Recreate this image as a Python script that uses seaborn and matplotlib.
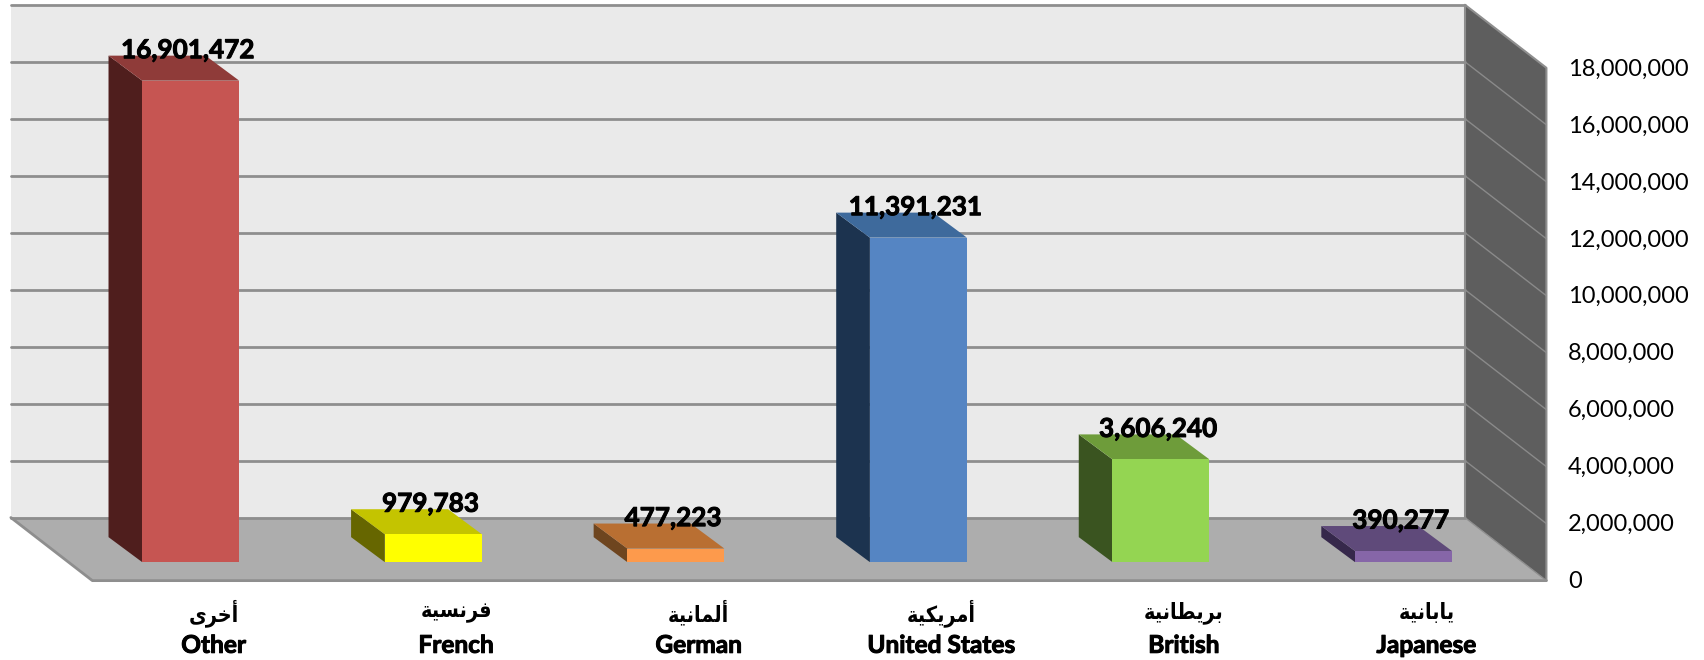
import matplotlib
matplotlib.use('Agg')
from matplotlib import pyplot as plt
from matplotlib import patheffects
from matplotlib.patches import Polygon
import seaborn as sns
import pandas as pd

# Data
categories_en = ['Other', 'French', 'German', 'United States', 'British', 'Japanese']
categories_ar = ['أخرى', 'فرنسية', 'ألمانية', 'أمريكية', 'بريطانية', 'يابانية']
values = [16901472, 979783, 477223, 11391231, 3606240, 390277]
axis_ticks = [0, 2000000, 4000000, 6000000, 8000000, 10000000, 12000000, 14000000, 16000000, 18000000]

# Colours of the faces of each bar
front_colors = ['#C65552', '#FFFF00', '#FD9A4C', '#5585C3', '#94D552', '#8666A8']
top_colors = ['#8F3B39', '#C4C400', '#B96F32', '#3E6A9C', '#6E9C3A', '#5F4A7A']
side_colors = ['#4F1E1D', '#666600', '#6E451F', '#1C334F', '#3A5420', '#36284B']

WALL = '#EAEAEA'
FLOOR = '#ADADAD'
SIDE = '#5E5E5E'
LINE = '#8E8E8E'

# Arabic letter forms: isolated, final, initial, medial (matplotlib does not join letters)
FORMS = {
    'أ': (0xFE83, 0xFE84), 'ا': (0xFE8D, 0xFE8E), 'ر': (0xFEAD, 0xFEAE),
    'ة': (0xFE93, 0xFE94), 'ى': (0xFEEF, 0xFEF0),
    'ب': (0xFE8F, 0xFE90, 0xFE91, 0xFE92), 'خ': (0xFEA5, 0xFEA6, 0xFEA7, 0xFEA8),
    'س': (0xFEB1, 0xFEB2, 0xFEB3, 0xFEB4), 'ط': (0xFEC1, 0xFEC2, 0xFEC3, 0xFEC4),
    'ف': (0xFED1, 0xFED2, 0xFED3, 0xFED4), 'ك': (0xFED9, 0xFEDA, 0xFEDB, 0xFEDC),
    'ل': (0xFEDD, 0xFEDE, 0xFEDF, 0xFEE0),
    'م': (0xFEE1, 0xFEE2, 0xFEE3, 0xFEE4), 'ن': (0xFEE5, 0xFEE6, 0xFEE7, 0xFEE8),
    'ي': (0xFEF1, 0xFEF2, 0xFEF3, 0xFEF4),
}


def shape_arabic(word):
    out = []
    for i, ch in enumerate(word):
        forms = FORMS[ch]
        joins_prev = i > 0 and len(FORMS[word[i - 1]]) == 4
        joins_next = i < len(word) - 1 and len(forms) == 4
        if joins_prev and joins_next:
            out.append(chr(forms[3]))
        elif joins_prev:
            out.append(chr(forms[1]))
        elif joins_next:
            out.append(chr(forms[2]))
        else:
            out.append(chr(forms[0]))
    return ''.join(reversed(out))


sns.set_theme(style='white')
plt.rcParams['font.family'] = ['Lato', 'DejaVu Sans']

fig = plt.figure(figsize=(17.04, 6.6), dpi=100)
ax = fig.add_axes([0, 0, 1, 1])

df = pd.DataFrame({'category': categories_en, 'value': values})
sns.barplot(data=df, x='category', y='value', hue='category', palette=front_colors,
            legend=False, width=0.4, saturation=1, linewidth=0, zorder=5, ax=ax)

# one unit of the 1568 wide picture in data units
px = 1 / 223.2
py = 1e6 / 26.2
ax.set_xlim(-175.5 * px, (1568 - 175.5) * px)
ax.set_ylim(-(607 - 517) * py, 517 * py)
ax.axis('off')

# offsets of the planes against the plane of the bar fronts
wall_dx, wall_dy = -165.5 * px, 41 * py    # left end of back wall
depth_dx, depth_dy = 75 * px, 58 * py      # floor depth
bar_dx, bar_dy = 31 * px, 23 * py          # bar depth
wall_w = 1338 * px
top = axis_ticks[-1]

bolder = [patheffects.withStroke(linewidth=0.7, foreground='black')]


def face(points, color, z=1):
    ax.add_patch(Polygon(points, closed=True, facecolor=color, edgecolor='none', zorder=z))


x0, y0 = wall_dx, wall_dy
x1 = x0 + wall_w
face([(x0, y0), (x1, y0), (x1, y0 + top), (x0, y0 + top)], WALL)
face([(x1, y0), (x1, y0 + top), (x1 + depth_dx, y0 + top - depth_dy),
      (x1 + depth_dx, y0 - depth_dy)], SIDE)
face([(x0, y0), (x1, y0), (x1 + depth_dx, y0 - depth_dy), (x0 + depth_dx, y0 - depth_dy)], FLOOR, z=1.5)

# gridlines on back wall and side wall
for t in axis_ticks:
    ax.plot([x0, x1], [y0 + t, y0 + t], color=LINE, lw=2, zorder=2)
    if 0 < t < top:
        ax.plot([x1, x1 + depth_dx], [y0 + t, y0 + t - depth_dy], color='#8A8A8A', lw=1, zorder=2)

# outlines
ax.plot([x1, x1 + depth_dx, x1 + depth_dx], [y0 + top, y0 + top - depth_dy, y0 - depth_dy],
        color=LINE, lw=1.5, zorder=2)
ax.plot([x0, x0 + depth_dx, x1 + depth_dx], [y0, y0 - depth_dy, y0 - depth_dy], color=LINE, lw=2, zorder=2)
ax.plot([x1, x1], [y0, y0 + top], color=LINE, lw=1.5, zorder=2)
ax.plot([x1, x1 + depth_dx], [y0, y0 - depth_dy], color=LINE, lw=1, zorder=2)

# depth faces of the bars, and labels
for i, v in enumerate(values):
    left, right = i - 0.2, i + 0.2
    face([(left, 0), (left, v), (left - bar_dx, v + bar_dy), (left - bar_dx, bar_dy)], side_colors[i], z=4)
    face([(left, v), (right, v), (right - bar_dx, v + bar_dy), (left - bar_dx, v + bar_dy)], top_colors[i], z=4)
    ax.text(i - 2.5 * px, v + 28 * py, f'{v:,}', ha='center', va='center', fontsize=18.8,
            fontweight='bold', color='black', zorder=6, path_effects=bolder)
    ax.text(i + 21 * px, -46.5 * py, shape_arabic(categories_ar[i]), ha='center', va='center',
            fontsize=15.5, fontweight='bold', family='DejaVu Sans', stretch='condensed', color='black')
    ax.text(i + 21 * px, -76.5 * py, categories_en[i], ha='center', va='center', fontsize=17.6,
            fontweight='bold', color='black', path_effects=bolder)

for t in axis_ticks:
    ax.text(1443 * px - 175.5 * px, t - 18 * py, f'{t:,}', ha='left', va='center', fontsize=17, color='black')

fig.savefig('out.png', dpi=100)
